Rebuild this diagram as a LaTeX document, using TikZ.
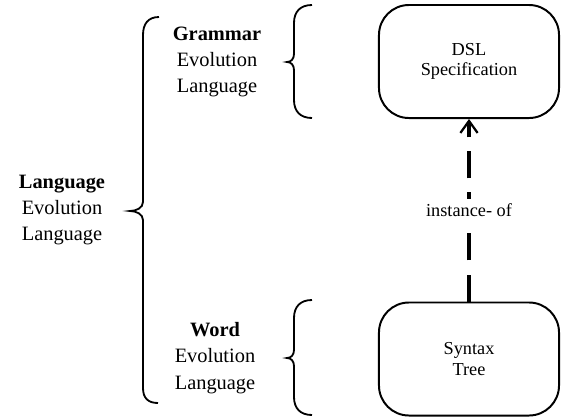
\documentclass[tikz,border=0pt]{standalone}
\usepackage{fontspec}
\setmainfont{Liberation Serif}
\usetikzlibrary{arrows.meta, positioning}

\tikzset{
	roundbox/.style={draw, line width=1.4pt, rounded corners=0.75cm, minimum width=4.5cm, minimum height=2.825cm, align=center, font=\fontsize{13}{14.5}\selectfont},
	grouptext/.style={align=center, font=\fontsize{14.5}{18.8}\selectfont},
	brc/.style={line width=1.3pt},
	instof/.style={line width=0.1cm, dash pattern=on 0.675cm off 0.35cm, -{Straight Barb[length=0.3cm, width=0.43cm, line width=1.6pt]}},
}

\begin{document}
\begin{tikzpicture}[x=0.025cm, y=-0.025cm]
		\useasboundingbox (0,0) rectangle (561,417);

		\coordinate (dsl)     at (469, 61.5);
		\coordinate (syntax)  at (469, 359);
		\coordinate (grammar) at (217, 62);
		\coordinate (word)    at (215, 358);
		\coordinate (lang)    at (62, 210);

		\node[roundbox] (DSL) at (dsl) {DSL\\Specification};
		\node[roundbox] (STX) at (syntax) {Syntax\\Tree};
		\node[grouptext] (GRA) at (grammar) {\textbf{Grammar}\\Evolution\\Language};
		\node[grouptext] (WRD) at (word) {\textbf{Word}\\Evolution\\Language};
		\node[grouptext] (LNG) at (lang) {\textbf{Language}\\Evolution\\Language};

		\draw[instof] (STX.north) -- node[fill=white, font=\fontsize{13}{14.5}\selectfont] (INS) {instance- of} (DSL.south);

		% braces
		\draw[brc] (312,5) .. controls (300,5) and (294,12) .. (294,23) -- (294,54) .. controls (294,59) and (291,62) .. (287,62) .. controls (291,62) and (294,65) .. (294,70) -- (294,100) .. controls (294,111) and (300,118) .. (312,118);
		\draw[brc] (312,300) .. controls (300,300) and (294,307) .. (294,318) -- (294,350) .. controls (294,355) and (291,358) .. (287,358) .. controls (291,358) and (294,361) .. (294,366) -- (294,397) .. controls (294,408) and (300,415) .. (312,415);
		\draw[brc] (159,17) .. controls (148,17) and (143,24) .. (143,35) -- (143,202) .. controls (143,208) and (136,211) .. (130,211) .. controls (136,211) and (143,214) .. (143,220) -- (143,388) .. controls (143,398) and (148,403) .. (158,403);
	\end{tikzpicture}
\end{document}
